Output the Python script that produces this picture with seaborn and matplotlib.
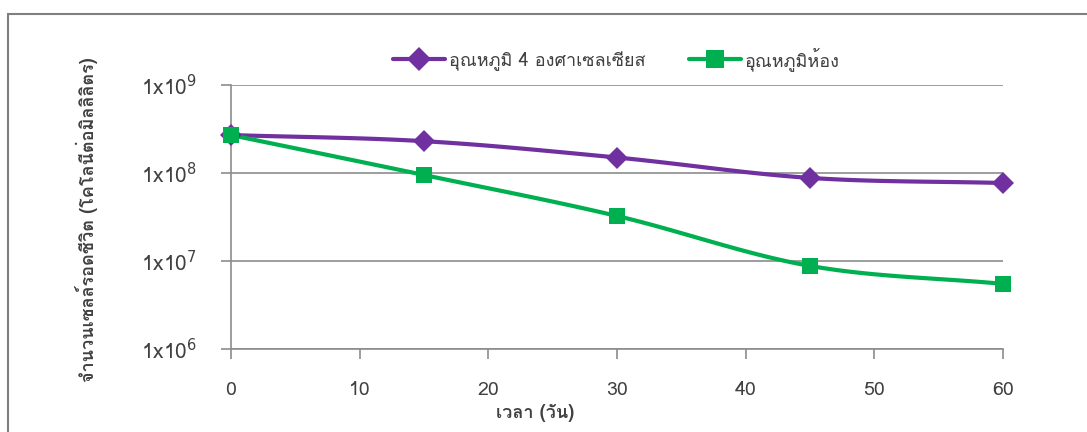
import numpy as np
import pandas as pd
import matplotlib
matplotlib.use('Agg')
import matplotlib.pyplot as plt
from matplotlib import font_manager, ft2font
from matplotlib.patches import Rectangle
from matplotlib.lines import Line2D
import seaborn as sns

# data
days = [0, 15, 30, 45, 60]
cold = [2.7e8, 2.3e8, 1.5e8, 8.8e7, 7.7e7]
room = [2.7e8, 9.5e7, 3.25e7, 8.8e6, 5.5e6]
label_cold = 'อุณหภูมิ 4 องศาเซลเซียส'
label_room = 'อุณหภูมิห้อง'
xlabel = 'เวลา (วัน)'
ylabel = 'จำนวนเซลล์รอดชีวิต (โคโลนีต่อมิลลิลิตร)'
yticks = [1e6, 1e7, 1e8, 1e9]
ytick_labels = [r'1x10$^{6}$', r'1x10$^{7}$', r'1x10$^{8}$', r'1x10$^{9}$']

purple = '#7030A0'
green = '#00B050'
grey = '#8c8c8c'

sns.set_style("white")

# find a font that has Thai glyphs
thai = None
for f in font_manager.fontManager.ttflist:
    try:
        if ord('อ') in ft2font.FT2Font(f.fname).get_charmap():
            thai = f.name
            break
    except Exception:
        pass
fams = [thai, 'DejaVu Sans'] if thai else ['DejaVu Sans']
plt.rcParams['font.family'] = fams
plt.rcParams['mathtext.fontset'] = 'dejavusans'


def smooth(x, y, n=30):
    # catmull-rom through points in (x, log y), for an Excel-like smoothed line
    x = np.asarray(x, float)
    ly = np.log10(np.asarray(y, float))
    px = np.concatenate([[2 * x[0] - x[1]], x, [2 * x[-1] - x[-2]]])
    py = np.concatenate([[2 * ly[0] - ly[1]], ly, [2 * ly[-1] - ly[-2]]])
    xs, ys = [], []
    for i in range(1, len(px) - 2):
        t = np.linspace(0, 1, n)
        for p, out in ((px, xs), (py, ys)):
            p0, p1, p2, p3 = p[i - 1], p[i], p[i + 1], p[i + 2]
            out.extend(0.5 * ((2 * p1) + (-p0 + p2) * t + (2 * p0 - 5 * p1 + 4 * p2 - p3) * t ** 2
                              + (-p0 + 3 * p1 - 3 * p2 + p3) * t ** 3))
    return np.array(xs), 10 ** np.array(ys)


fig = plt.figure(figsize=(10.87, 4.32), dpi=100)
ax = fig.add_axes([0.2125, 0.1921, 0.7102, 0.6111])

fig.patches.append(Rectangle((8 / 1087, -0.1), 1.2, (432 - 14) / 432 + 0.1, transform=fig.transFigure,
                             fill=False, edgecolor='#7f7f7f', linewidth=1.5))

df = pd.DataFrame({'day': days * 2, 'count': cold + room,
                   'series': [label_cold] * 5 + [label_room] * 5})

for lab, col in ((label_cold, purple), (label_room, green)):
    d = df[df.series == lab]
    sx, sy = smooth(d['day'].to_numpy(), d['count'].to_numpy())
    ax.plot(sx, sy, color=col, linewidth=3, zorder=3, clip_on=False)

sns.lineplot(data=df, x='day', y='count', hue='series', style='series',
             palette=[purple, green], markers=['D', 's'], dashes=False,
             markersize=11, markeredgewidth=0, linewidth=0, ax=ax, zorder=4,
             clip_on=False)

ax.set_yscale('log')
ax.set_ylim(1e6, 1e9)
ax.set_xlim(0, 60)
ax.set_yticks(yticks)
ax.set_yticklabels(ytick_labels)
ax.minorticks_off()
ax.set_xticks(range(0, 61, 10))
ax.yaxis.grid(True, color=grey, linewidth=1.2)
for s in ('top', 'right'):
    ax.spines[s].set_visible(False)
for s in ('left', 'bottom'):
    ax.spines[s].set_color(grey)
    ax.spines[s].set_linewidth(1.2)
ax.tick_params(axis='x', bottom=True, direction='out', length=7, color=grey, width=1.2, labelsize=14,
               pad=16, labelcolor='#404040')
ax.tick_params(axis='y', left=True, direction='out', length=7, color=grey, width=1.2, labelsize=15,
               pad=18, labelcolor='#404040')
ax.set_xlabel(xlabel, fontsize=13, fontweight='bold', color='#404040')
ax.xaxis.set_label_coords(0.394, -0.21)
ax.set_ylabel(ylabel, fontsize=13, fontweight='bold', color='#404040')
ax.yaxis.set_label_coords(-0.172, 0.49)

handles = [Line2D([], [], color=purple, lw=3, marker='D', markersize=12, markeredgewidth=0),
           Line2D([], [], color=green, lw=3, marker='s', markersize=13, markeredgewidth=0)]
ax.legend(handles, [label_cold, label_room], loc='center', bbox_to_anchor=(0.499, 1.1), ncol=2,
          frameon=False, fontsize=13, handlelength=2.9, handletextpad=0.2, columnspacing=2.4,
          labelcolor='#404040')

plt.savefig('out.png', dpi=100)
